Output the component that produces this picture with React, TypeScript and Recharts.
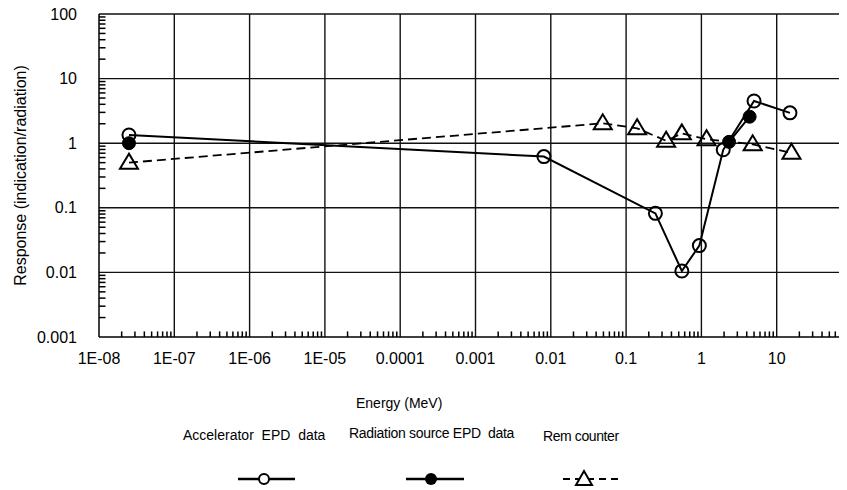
import React from 'react';
import { LineChart, Line, XAxis, YAxis, ReferenceLine } from 'recharts';

// Energy (MeV) / response pairs
const accelEnergy = [2.5e-8, 0.0081, 0.245, 0.55, 0.94, 1.95, 5.0, 15];
const accelResponse = [1.34, 0.62, 0.082, 0.0105, 0.026, 0.79, 4.5, 2.95];

const sourceEnergy = [2.5e-8, 2.33, 4.37];
const sourceResponse = [1.0, 1.05, 2.57];

const remEnergy = [2.5e-8, 0.049, 0.14, 0.34, 0.55, 1.17, 4.8, 15.7];
const remResponse = [0.5, 2.03, 1.7, 1.09, 1.42, 1.15, 0.96, 0.71];

const xMajor = [1e-8, 1e-7, 1e-6, 1e-5, 1e-4, 1e-3, 1e-2, 1e-1, 1, 10, 100];
const xLabels = ['1E-08', '1E-07', '1E-06', '1E-05', '0.0001', '0.001', '0.01', '0.1', '1', '10'];
const yMajor = [0.001, 0.01, 0.1, 1, 10, 100];
const yLabels = ['0.001', '0.01', '0.1', '1', '10', '100'];
const minorSteps = [2, 3, 4, 5, 6, 7, 8, 9];

const font = '"Liberation Sans", Arial, sans-serif';

// 2..9 subdivisions of every decade
const minorsOf = (majors: number[]) => {
  const out: number[] = [];
  majors.slice(0, -1).forEach((m) => minorSteps.forEach((s) => out.push(m * s)));
  return out;
};

const toRows = (xs: number[], ys: number[]) => xs.map((x, i) => ({ energy: x, response: ys[i] }));

const accelData = toRows(accelEnergy, accelResponse);
const sourceData = toRows(sourceEnergy, sourceResponse);
const remData = toRows(remEnergy, remResponse);

// minor tick length as a factor along the log axis (~6 px)
const tickSpan = 1.22;

const majorIndex = (v: number, majors: number[]) => majors.findIndex((m) => Math.abs(v / m - 1) < 1e-6);

const XTick = (props: any) => {
  const { x, y, payload } = props;
  const idx = majorIndex(payload.value, xMajor);
  if (idx < 0 || idx >= xLabels.length) return <g />;
  return (
    <text x={x} y={y + 27} textAnchor="middle" fontSize={16} fontFamily={font} fill="#000">
      {xLabels[idx]}
    </text>
  );
};

const YTick = (props: any) => {
  const { x, y, payload } = props;
  const idx = majorIndex(payload.value, yMajor);
  if (idx < 0) return <g />;
  return (
    <text x={x - 22} y={y + 5.5} textAnchor="end" fontSize={16} fontFamily={font} fill="#000">
      {yLabels[idx]}
    </text>
  );
};

const OpenCircle = (p: any) => (
  <circle key={p.index} cx={p.cx} cy={p.cy} r={6.5} fill="none" stroke="#000" strokeWidth={2} />
);

const FilledCircle = (p: any) => (
  <circle key={p.index} cx={p.cx} cy={p.cy} r={6.5} fill="#000" stroke="#000" strokeWidth={1} />
);

const Triangle = (p: any) => (
  <polygon
    key={p.index}
    points={`${p.cx},${p.cy - 9} ${p.cx - 9},${p.cy + 6} ${p.cx + 9},${p.cy + 6}`}
    fill="none"
    stroke="#000"
    strokeWidth={2}
  />
);

const gridStroke = '#111';

export default function App() {
  const labelStyle: React.CSSProperties = {
    position: 'absolute',
    fontFamily: font,
    fontSize: 14,
    color: '#000',
    whiteSpace: 'pre',
    lineHeight: '16px',
  };

  return (
    <div style={{ position: 'relative', width: 839, height: 482, overflow: 'hidden' }}>
      <LineChart width={860} height={360} margin={{ top: 6, right: 16, bottom: 1, left: 0 }}>
        <XAxis
          dataKey="energy"
          type="number"
          scale="log"
          domain={[1e-8, 100]}
          allowDataOverflow
          ticks={xMajor}
          interval={0}
          tickSize={0}
          tickMargin={0}
          height={30}
          tick={<XTick />}
          tickLine={false}
          axisLine={{ stroke: '#000', strokeWidth: 1.5 }}
        />
        <YAxis
          dataKey="response"
          type="number"
          scale="log"
          domain={[0.001, 100]}
          allowDataOverflow
          ticks={yMajor}
          interval={0}
          tickSize={0}
          tickMargin={0}
          width={91}
          tick={<YTick />}
          tickLine={false}
          axisLine={{ stroke: '#000', strokeWidth: 1.5 }}
          label={{
            value: 'Response (indication/radiation)',
            angle: -90,
            position: 'insideLeft',
            offset: 12,
            style: { fontFamily: font, fontSize: 16, fill: '#000', textAnchor: 'middle' },
          }}
        />
        {xMajor.slice(1).map((v) => (
          <ReferenceLine key={`gx${v}`} x={v} stroke={gridStroke} strokeWidth={1.4} />
        ))}
        {yMajor.slice(1).map((v) => (
          <ReferenceLine key={`gy${v}`} y={v} stroke={gridStroke} strokeWidth={1.4} />
        ))}
        {minorsOf(xMajor).map((v) => (
          <ReferenceLine
            key={`mx${v}`}
            segment={[
              { x: v, y: yMajor[0] },
              { x: v, y: yMajor[0] * tickSpan },
            ]}
            stroke="#000"
            strokeWidth={1.5}
          />
        ))}
        {minorsOf(yMajor).map((v) => (
          <ReferenceLine
            key={`my${v}`}
            segment={[
              { x: xMajor[0], y: v },
              { x: xMajor[0] * tickSpan, y: v },
            ]}
            stroke="#000"
            strokeWidth={1.5}
          />
        ))}
        <Line
          data={remData}
          dataKey="response"
          stroke="#000"
          strokeWidth={1.8}
          strokeDasharray="9 5"
          dot={Triangle}
          isAnimationActive={false}
        />
        <Line
          data={accelData}
          dataKey="response"
          stroke="#000"
          strokeWidth={2}
          dot={OpenCircle}
          isAnimationActive={false}
        />
        <Line
          data={sourceData.slice(0, 1)}
          dataKey="response"
          stroke="#000"
          strokeWidth={2}
          dot={FilledCircle}
          isAnimationActive={false}
        />
        <Line
          data={sourceData.slice(1)}
          dataKey="response"
          stroke="#000"
          strokeWidth={2}
          dot={FilledCircle}
          isAnimationActive={false}
        />
      </LineChart>

      <div style={{ ...labelStyle, left: 348, top: 387 }}>Energy (MeV)</div>

      <div style={{ ...labelStyle, left: 175, top: 419 }}>Accelerator  EPD  data</div>
      <div style={{ ...labelStyle, left: 341, top: 417, letterSpacing: -0.3 }}>Radiation source EPD  data</div>
      <div style={{ ...labelStyle, left: 535, top: 420, letterSpacing: -0.4 }}>Rem counter</div>

      <svg style={{ position: 'absolute', left: 0, top: 455 }} width={839} height={27}>
        <line x1={230} x2={287} y1={16} y2={16} stroke="#000" strokeWidth={2.5} />
        <circle cx={256} cy={16} r={5} fill="#fff" stroke="#000" strokeWidth={2} />
        <line x1={398} x2={456} y1={16} y2={16} stroke="#000" strokeWidth={2.5} />
        <circle cx={423} cy={16} r={6} fill="#000" />
        <line x1={555} x2={610} y1={16} y2={16} stroke="#000" strokeWidth={2} strokeDasharray="7 5" />
        <polygon points="576,8 568,22 584,22" fill="#fff" stroke="#000" strokeWidth={2} />
      </svg>
    </div>
  );
}
